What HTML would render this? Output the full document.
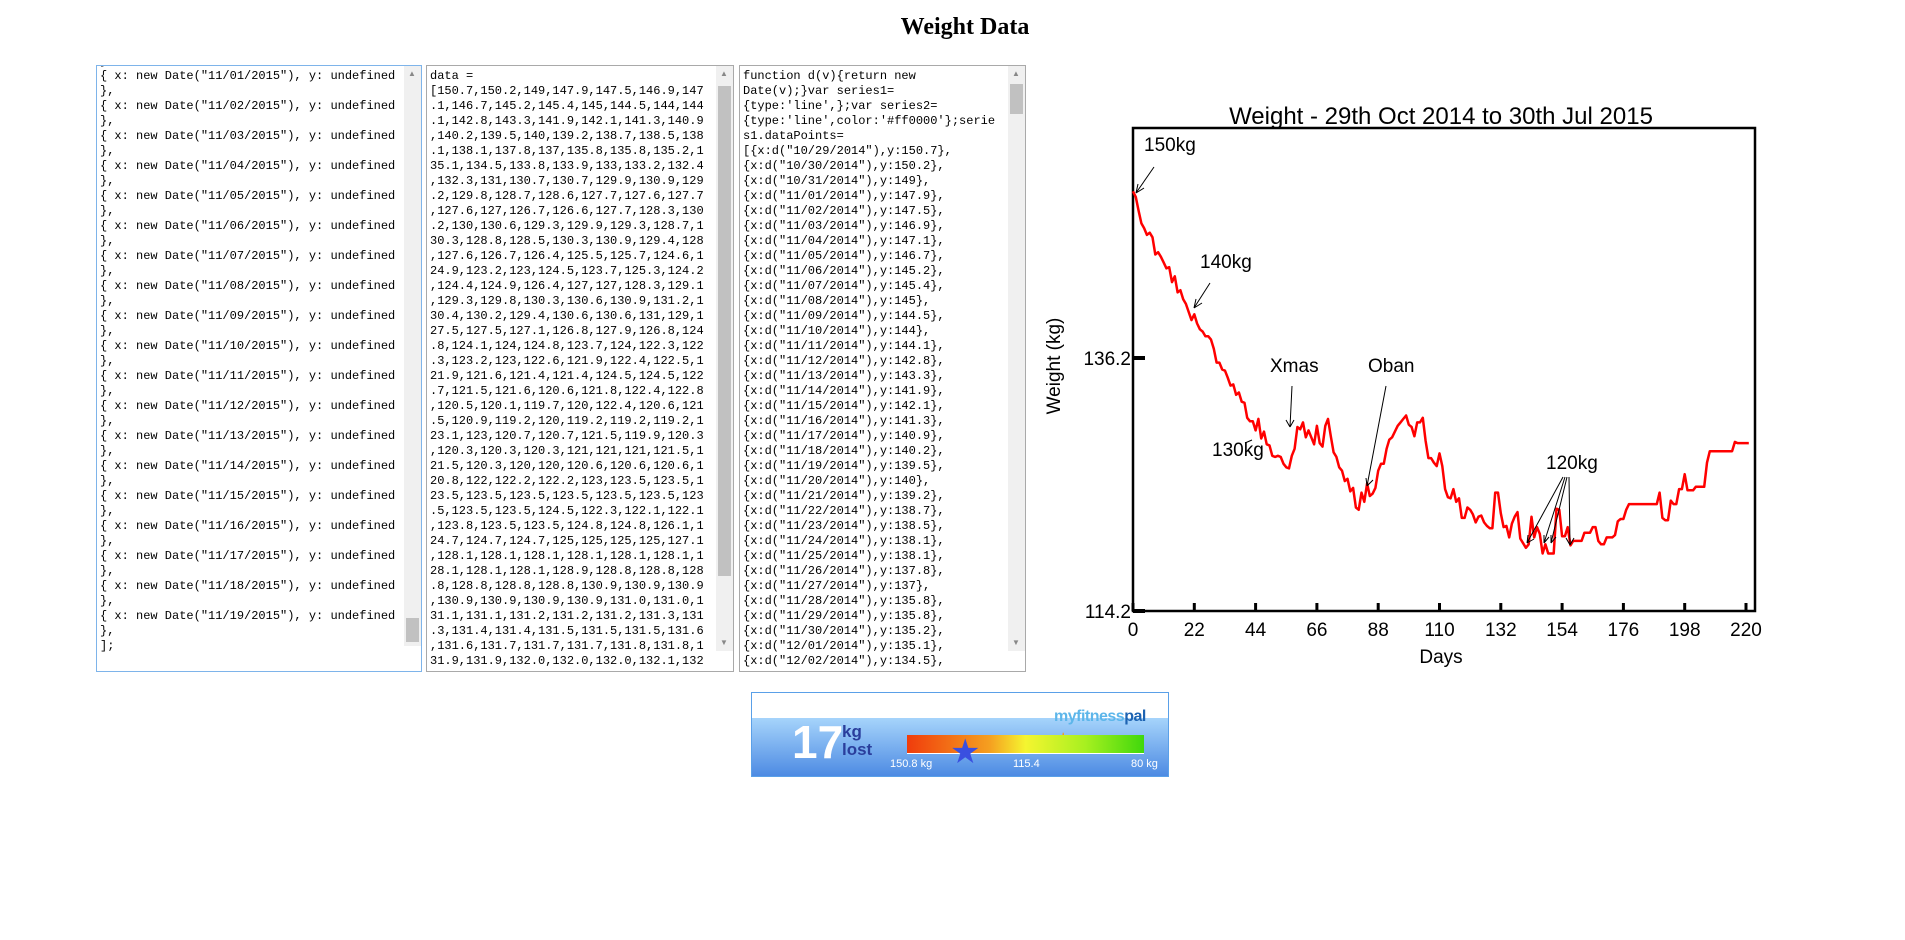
<!DOCTYPE html>
<html><head><meta charset="utf-8"><style>
body{margin:0;width:1905px;height:940px;background:#fff;position:relative;overflow:hidden;font-family:"Liberation Sans",sans-serif}
h1{position:absolute;left:0;width:1930px;top:14px;margin:0;text-align:center;font:bold 24px "Liberation Serif",serif}
.ta{position:absolute;top:65px;height:607px;border:1px solid #a9a9a9;overflow:hidden;background:#fff;box-sizing:border-box}
.ta pre{margin:0;position:absolute;left:3px;font:12px/15px "Liberation Mono",monospace;color:#000;white-space:pre}
.sb{position:absolute;right:0;top:0;width:17px;height:100%;background:#f0f0f0}
.th{position:absolute;left:2px;width:13px;background:#c1c1c1}
.ar{position:absolute;left:4px;font-size:8px;color:#888}
svg{position:absolute;left:0;top:0}
</style></head><body>
<h1>Weight Data</h1>

<div class="ta" style="left:96px;width:326px;border-color:#7eb4ea">
<pre style="top:-12px">},
{ x: new Date("11/01/2015"), y: undefined
},
{ x: new Date("11/02/2015"), y: undefined
},
{ x: new Date("11/03/2015"), y: undefined
},
{ x: new Date("11/04/2015"), y: undefined
},
{ x: new Date("11/05/2015"), y: undefined
},
{ x: new Date("11/06/2015"), y: undefined
},
{ x: new Date("11/07/2015"), y: undefined
},
{ x: new Date("11/08/2015"), y: undefined
},
{ x: new Date("11/09/2015"), y: undefined
},
{ x: new Date("11/10/2015"), y: undefined
},
{ x: new Date("11/11/2015"), y: undefined
},
{ x: new Date("11/12/2015"), y: undefined
},
{ x: new Date("11/13/2015"), y: undefined
},
{ x: new Date("11/14/2015"), y: undefined
},
{ x: new Date("11/15/2015"), y: undefined
},
{ x: new Date("11/16/2015"), y: undefined
},
{ x: new Date("11/17/2015"), y: undefined
},
{ x: new Date("11/18/2015"), y: undefined
},
{ x: new Date("11/19/2015"), y: undefined
},
];</pre>
<div class="sb" style="height:580px"><div class="ar" style="top:3px">▲</div><div class="th" style="top:552px;height:24px"></div></div>
</div>

<div class="ta" style="left:426px;width:308px">
<pre style="top:3px">data =
[150.7,150.2,149,147.9,147.5,146.9,147
.1,146.7,145.2,145.4,145,144.5,144,144
.1,142.8,143.3,141.9,142.1,141.3,140.9
,140.2,139.5,140,139.2,138.7,138.5,138
.1,138.1,137.8,137,135.8,135.8,135.2,1
35.1,134.5,133.8,133.9,133,133.2,132.4
,132.3,131,130.7,130.7,129.9,130.9,129
.2,129.8,128.7,128.6,127.7,127.6,127.7
,127.6,127,126.7,126.6,127.7,128.3,130
.2,130,130.6,129.3,129.9,129.3,128.7,1
30.3,128.8,128.5,130.3,130.9,129.4,128
,127.6,126.7,126.4,125.5,125.7,124.6,1
24.9,123.2,123,124.5,123.7,125.3,124.2
,124.4,124.9,126.4,127,127,128.3,129.1
,129.3,129.8,130.3,130.6,130.9,131.2,1
30.4,130.2,129.4,130.6,130.6,131,129,1
27.5,127.5,127.1,126.8,127.9,126.8,124
.8,124.1,124,124.8,123.7,124,122.3,122
.3,123.2,123,122.6,121.9,122.4,122.5,1
21.9,121.6,121.4,121.4,124.5,124.5,122
.7,121.5,121.6,120.6,121.8,122.4,122.8
,120.5,120.1,119.7,120,122.4,120.6,121
.5,120.9,119.2,120,119.2,119.2,119.2,1
23.1,123,120.7,120.7,121.5,119.9,120.3
,120.3,120.3,120.3,121,121,121,121.5,1
21.5,120.3,120,120,120.6,120.6,120.6,1
20.8,122,122.2,122.2,123,123.5,123.5,1
23.5,123.5,123.5,123.5,123.5,123.5,123
.5,123.5,123.5,124.5,122.3,122.1,122.1
,123.8,123.5,123.5,124.8,124.8,126.1,1
24.7,124.7,124.7,125,125,125,125,127.1
,128.1,128.1,128.1,128.1,128.1,128.1,1
28.1,128.1,128.1,128.9,128.8,128.8,128
.8,128.8,128.8,128.8,130.9,130.9,130.9
,130.9,130.9,130.9,130.9,131.0,131.0,1
31.1,131.1,131.2,131.2,131.2,131.3,131
.3,131.4,131.4,131.5,131.5,131.5,131.6
,131.6,131.7,131.7,131.7,131.8,131.8,1
31.9,131.9,132.0,132.0,132.0,132.1,132</pre>
<div class="sb" style="height:585px"><div class="ar" style="top:3px">▲</div><div class="th" style="top:20px;height:490px"></div><div class="ar" style="top:572px">▼</div></div>
</div>

<div class="ta" style="left:739px;width:287px">
<pre style="top:3px">function d(v){return new
Date(v);}var series1=
{type:'line',};var series2=
{type:'line',color:'#ff0000'};serie
s1.dataPoints=
[{x:d("10/29/2014"),y:150.7},
{x:d("10/30/2014"),y:150.2},
{x:d("10/31/2014"),y:149},
{x:d("11/01/2014"),y:147.9},
{x:d("11/02/2014"),y:147.5},
{x:d("11/03/2014"),y:146.9},
{x:d("11/04/2014"),y:147.1},
{x:d("11/05/2014"),y:146.7},
{x:d("11/06/2014"),y:145.2},
{x:d("11/07/2014"),y:145.4},
{x:d("11/08/2014"),y:145},
{x:d("11/09/2014"),y:144.5},
{x:d("11/10/2014"),y:144},
{x:d("11/11/2014"),y:144.1},
{x:d("11/12/2014"),y:142.8},
{x:d("11/13/2014"),y:143.3},
{x:d("11/14/2014"),y:141.9},
{x:d("11/15/2014"),y:142.1},
{x:d("11/16/2014"),y:141.3},
{x:d("11/17/2014"),y:140.9},
{x:d("11/18/2014"),y:140.2},
{x:d("11/19/2014"),y:139.5},
{x:d("11/20/2014"),y:140},
{x:d("11/21/2014"),y:139.2},
{x:d("11/22/2014"),y:138.7},
{x:d("11/23/2014"),y:138.5},
{x:d("11/24/2014"),y:138.1},
{x:d("11/25/2014"),y:138.1},
{x:d("11/26/2014"),y:137.8},
{x:d("11/27/2014"),y:137},
{x:d("11/28/2014"),y:135.8},
{x:d("11/29/2014"),y:135.8},
{x:d("11/30/2014"),y:135.2},
{x:d("12/01/2014"),y:135.1},
{x:d("12/02/2014"),y:134.5},</pre>
<div class="sb" style="height:585px"><div class="ar" style="top:3px">▲</div><div class="th" style="top:18px;height:30px"></div><div class="ar" style="top:572px">▼</div></div>
</div>

<svg id="chart" width="1905" height="940" font-family="'Comic Sans MS','Liberation Sans',sans-serif">
<text x="1441" y="124" font-size="24" text-anchor="middle">Weight - 29th Oct 2014 to 30th Jul 2015</text>
<rect x="1133" y="128" width="622" height="483" fill="none" stroke="#000" stroke-width="2.5"/>
<g id="ticks"></g>
<text x="1060" y="366" font-size="19" text-anchor="middle" transform="rotate(-90 1060 366)">Weight (kg)</text>
<text x="1441" y="663" font-size="19" text-anchor="middle">Days</text>
<path id="line" fill="none" stroke="#ff0000" stroke-width="2.5" stroke-linejoin="round"/>
<g font-size="19" stroke="#000" stroke-width="1" fill="none">
<text x="1144" y="151" stroke="none" fill="#000">150kg</text><path d="M1154 167 L1136 193 M1136 193 l2 -9 M1136 193 l8 -5"/>
<text x="1200" y="268" stroke="none" fill="#000">140kg</text><path d="M1210 283 L1194 308 M1194 308 l2 -9 M1194 308 l8 -5"/>
<text x="1212" y="456" stroke="none" fill="#000">130kg</text><path d="M1245 443 L1252 440"/>
<text x="1270" y="372" stroke="none" fill="#000">Xmas</text><path d="M1292 386 L1290 427 M1290 427 l-4 -7 M1290 427 l4 -7"/>
<text x="1368" y="372" stroke="none" fill="#000">Oban</text><path d="M1386 386 L1367 486 M1367 486 l-1 -8 M1367 486 l6 -6"/>
<text x="1546" y="469" stroke="none" fill="#000">120kg</text>
<path d="M1563 477 L1527 543 M1527 543 l1 -8 M1527 543 l7 -4 M1565 477 L1544 543 M1544 543 l0 -8 M1544 543 l5 -6 M1567 477 L1551 543 M1551 543 l0 -8 M1551 543 l5 -6 M1569 477 L1570 545 M1570 545 l-4 -7 M1570 545 l4 -7"/>
</g>
</svg>

<div style="position:absolute;left:751px;top:692px;width:418px;height:85px;border:1px solid #5aa0e8;box-sizing:border-box;background:#fff;overflow:hidden">
<div style="position:absolute;left:0;top:25px;width:100%;height:60px;background:linear-gradient(#a6d4fb,#4a88e2)"></div>
<div style="position:absolute;left:302px;top:8px;font:bold 16px 'Liberation Sans',sans-serif;letter-spacing:-0.5px"><span style="color:#5db6ea">myfitness</span><span style="color:#1d63b2">pal</span><span style="color:#f29a1d;font-size:22px;position:relative;top:2px"> ✶</span></div>
<div style="position:absolute;left:40px;top:26px;font:bold 46px/46px 'Liberation Sans',sans-serif;color:#fff">17</div>
<div style="position:absolute;left:90px;top:30px;font:bold 17px/18px 'Liberation Sans',sans-serif;color:#2a3e9c">kg<br>lost</div>
<div style="position:absolute;left:155px;top:42px;width:237px;height:18px;background:linear-gradient(90deg,#f03c0c,#f5a020 35%,#f5f530 50%,#a8f020 75%,#40d80c)"></div>
<div style="position:absolute;left:155px;top:60px;width:237px;height:1px;background:#fff"></div>
<div style="position:absolute;left:138px;top:65px;font:11px 'Liberation Sans',sans-serif;color:#fff">150.8 kg</div>
<div style="position:absolute;left:261px;top:65px;font:11px 'Liberation Sans',sans-serif;color:#fff">115.4</div>
<div style="position:absolute;left:379px;top:65px;font:11px 'Liberation Sans',sans-serif;color:#fff">80 kg</div>
<div style="position:absolute;left:198px;top:42px;font-size:34px;color:#3a4fe0;line-height:34px">★</div>
</div>

<script>
const weights=[150.7,150.2,149,147.9,147.5,146.9,147.1,146.7,145.2,145.4,145,144.5,144,144.1,142.8,143.3,141.9,142.1,141.3,140.9,140.2,139.5,140,139.2,138.7,138.5,138.1,138.1,137.8,137,135.8,135.8,135.2,135.1,134.5,133.8,133.9,133,133.2,132.4,132.3,131,130.7,130.7,129.9,130.9,129.2,129.8,128.7,128.6,127.7,127.6,127.7,127.6,127,126.7,126.6,127.7,128.3,130.2,130,130.6,129.3,129.9,129.3,128.7,130.3,128.8,128.5,130.3,130.9,129.4,128,127.6,126.7,126.4,125.5,125.7,124.6,124.9,123.2,123,124.5,123.7,125.3,124.2,124.4,124.9,126.4,127,127,128.3,129.1,129.3,129.8,130.3,130.6,130.9,131.2,130.4,130.2,129.4,130.6,130.6,131,129,127.5,127.5,127.1,126.8,127.9,126.8,124.8,124.1,124,124.8,123.7,124,122.3,122.3,123.2,123,122.6,121.9,122.4,122.5,121.9,121.6,121.4,121.4,124.5,124.5,122.7,121.5,121.6,120.6,121.8,122.4,122.8,120.5,120.1,119.7,120,122.4,120.6,121.5,120.9,119.2,120,119.2,119.2,119.2,123.1,123,120.7,120.7,121.5,119.9,120.3,120.3,120.3,120.3,121,121,121,121.5,121.5,120.3,120,120,120.6,120.6,120.6,120.8,122,122.2,122.2,123,123.5,123.5,123.5,123.5,123.5,123.5,123.5,123.5,123.5,123.5,123.5,124.5,122.3,122.1,122.1,123.8,123.5,123.5,124.8,124.8,126.1,124.7,124.7,124.7,125,125,125,125,127.1,128.1,128.1,128.1,128.1,128.1,128.1,128.1,128.1,128.1,128.9,128.8,128.8,128.8,128.8,128.8,128.8,130.9,130.9,130.9];
const xTicks=[0,22,44,66,88,110,132,154,176,198,220];
const yTicks=[114.2,136.2];
const maxDay=221;
const xs=d=>1133+d*(1746-1133)/220;
const ys=v=>611-(v-114.2)*(611-358)/22;
const NS='http://www.w3.org/2000/svg';
let p='';
weights.forEach((v,i)=>{if(i<=maxDay){p+=(i?'L':'M')+xs(i).toFixed(1)+' '+ys(v).toFixed(1);}});
document.getElementById('line').setAttribute('d',p);
const g=document.getElementById('ticks');
xTicks.forEach(t=>{
 const l=document.createElementNS(NS,'line');
 l.setAttribute('x1',xs(t));l.setAttribute('x2',xs(t));l.setAttribute('y1',603);l.setAttribute('y2',611);
 l.setAttribute('stroke','#000');l.setAttribute('stroke-width','3');
 
 
 g.appendChild(l);
 const tx=document.createElementNS(NS,'text');
 tx.setAttribute('x',xs(t));tx.setAttribute('y',636);tx.setAttribute('font-size','19');tx.setAttribute('text-anchor','middle');
 tx.textContent=t;
 
 
 g.appendChild(tx);
});
yTicks.forEach(t=>{
 const l=document.createElementNS(NS,'line');
 l.setAttribute('x1',1133);l.setAttribute('x2',1145);l.setAttribute('y1',ys(t));l.setAttribute('y2',ys(t));
 l.setAttribute('stroke','#000');l.setAttribute('stroke-width','4');
 
 
 g.appendChild(l);
 const tx=document.createElementNS(NS,'text');
 tx.setAttribute('x',1131);tx.setAttribute('y',ys(t)+7);tx.setAttribute('font-size','19');tx.setAttribute('text-anchor','end');
 tx.textContent=t;
 
 
 g.appendChild(tx);
});
</script>
</body></html>
